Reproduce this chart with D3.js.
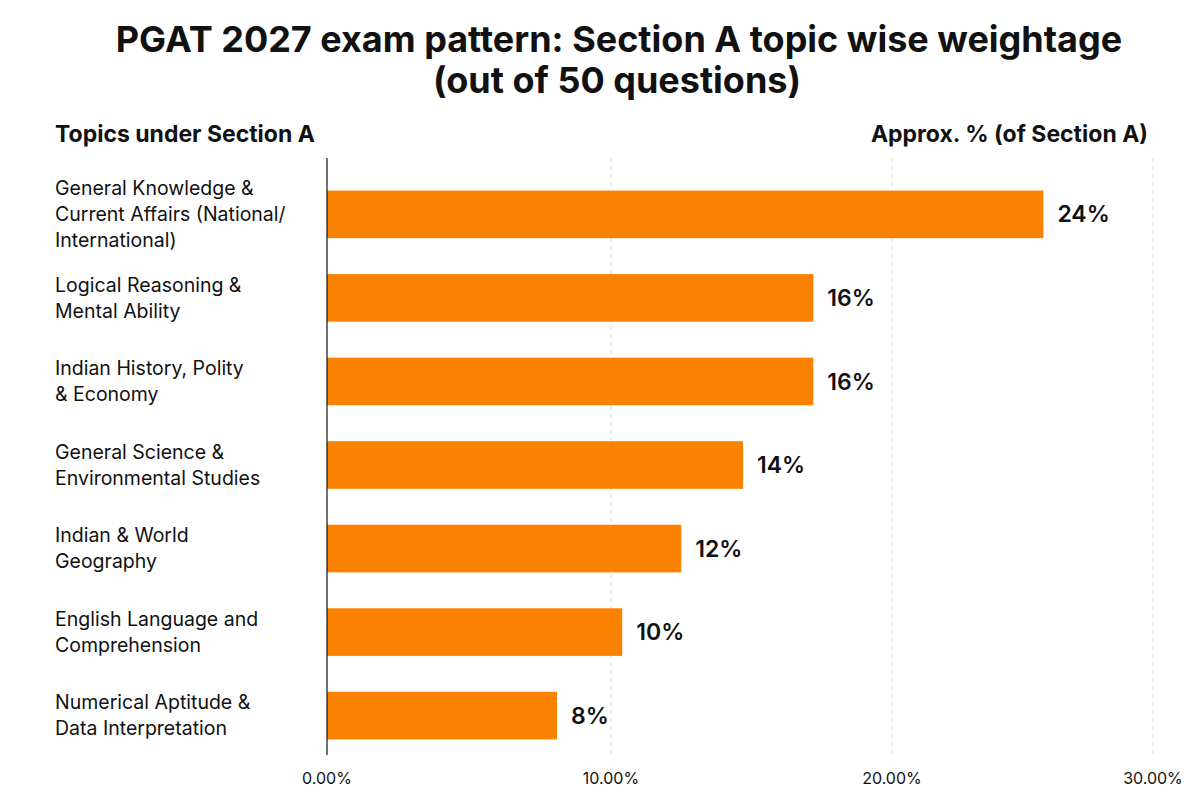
<!DOCTYPE html>
<html>
<head>
<meta charset="utf-8">
<script src="https://cdn.jsdelivr.net/npm/d3@7"></script>
<style>
  body { margin: 0; background: #fff; }
  svg { font-family: Inter, "Noto Sans", sans-serif; }
</style>
</head>
<body>
<svg id="chart" width="1200" height="800"></svg>
<script>
const topics = [
  ["General Knowledge &", "Current Affairs (National/", "International)"],
  ["Logical Reasoning &", "Mental Ability"],
  ["Indian History, Polity", "& Economy"],
  ["General Science &", "Environmental Studies"],
  ["Indian & World", "Geography"],
  ["English Language and", "Comprehension"],
  ["Numerical Aptitude &", "Data Interpretation"]
];
// bar lengths as drawn in the picture
const barValues = [25.8, 17.2, 17.2, 14.7, 12.5, 10.4, 8.1];
const valueLabels = ["24%", "16%", "16%", "14%", "12%", "10%", "8%"];
const ticks = [0, 10, 20, 30];

const svg = d3.select("#chart");

// ── Title ──
svg.append("text").attr("x", 619).attr("y", 52).attr("text-anchor", "middle")
  .attr("font-size", "36px").attr("font-weight", "700").attr("fill", "#111")
  .text("PGAT 2027 exam pattern: Section A topic wise weightage");
svg.append("text").attr("x", 617).attr("y", 93).attr("text-anchor", "middle")
  .attr("font-size", "36px").attr("font-weight", "700").attr("fill", "#111")
  .text("(out of 50 questions)");

svg.append("text").attr("x", 55).attr("y", 142).attr("font-size", "23px")
  .attr("font-weight", "700").attr("fill", "#111").text("Topics under Section A");
svg.append("text").attr("x", 1148).attr("y", 142).attr("text-anchor", "end")
  .attr("font-size", "23px").attr("font-weight", "700").attr("fill", "#111")
  .text("Approx. % (of Section A)");

// ── Scales ──
const x = d3.scaleLinear().domain(ticks).range([327, 611, 892, 1153]);
const y = d3.scaleBand().domain(d3.range(topics.length)).range([168, 762]).paddingInner(0.43).paddingOuter(0.27);

// Grid lines.
svg.append("g").selectAll("line").data(ticks.slice(1)).join("line")
  .attr("x1", d => x(d)).attr("x2", d => x(d))
  .attr("y1", 158).attr("y2", 755)
  .attr("stroke", "#ddd").attr("stroke-dasharray", "4,4");

// Bars.
svg.append("g").selectAll("rect").data(barValues).join("rect")
  .attr("x", x(0)).attr("y", (d, i) => y(i))
  .attr("width", d => x(d) - x(0)).attr("height", y.bandwidth())
  .attr("fill", "#fb8200");

// Value labels.
svg.append("g").selectAll("text").data(barValues).join("text")
  .attr("x", d => x(d) + 14).attr("y", (d, i) => y(i) + y.bandwidth() / 2)
  .attr("dy", "0.35em").attr("font-size", "23px").attr("font-weight", "600")
  .attr("fill", "#111").text((d, i) => valueLabels[i]);

// Category labels.
const lab = svg.append("g").selectAll("text").data(topics).join("text")
  .attr("font-size", "19.5px").attr("fill", "#111");
lab.each(function (lines, i) {
  const cy = y(i) + y.bandwidth() / 2;
  const lh = 26;
  const top = cy - (lines.length - 1) * lh / 2;
  d3.select(this).selectAll("tspan").data(lines).join("tspan")
    .attr("x", 55).attr("y", (d, k) => top + k * lh).attr("dy", "0.35em").text(d => d);
});

// Axis line.
svg.append("line").attr("x1", x(0)).attr("x2", x(0)).attr("y1", 158).attr("y2", 755)
  .attr("stroke", "#111").attr("stroke-width", 1.2);

// Tick labels.
svg.append("g").selectAll("text").data(ticks).join("text")
  .attr("x", d => x(d)).attr("y", 784).attr("text-anchor", "middle")
  .attr("font-size", "16px").attr("fill", "#111")
  .text(d => d3.format(".2f")(d) + "%");
</script>
</body>
</html>
